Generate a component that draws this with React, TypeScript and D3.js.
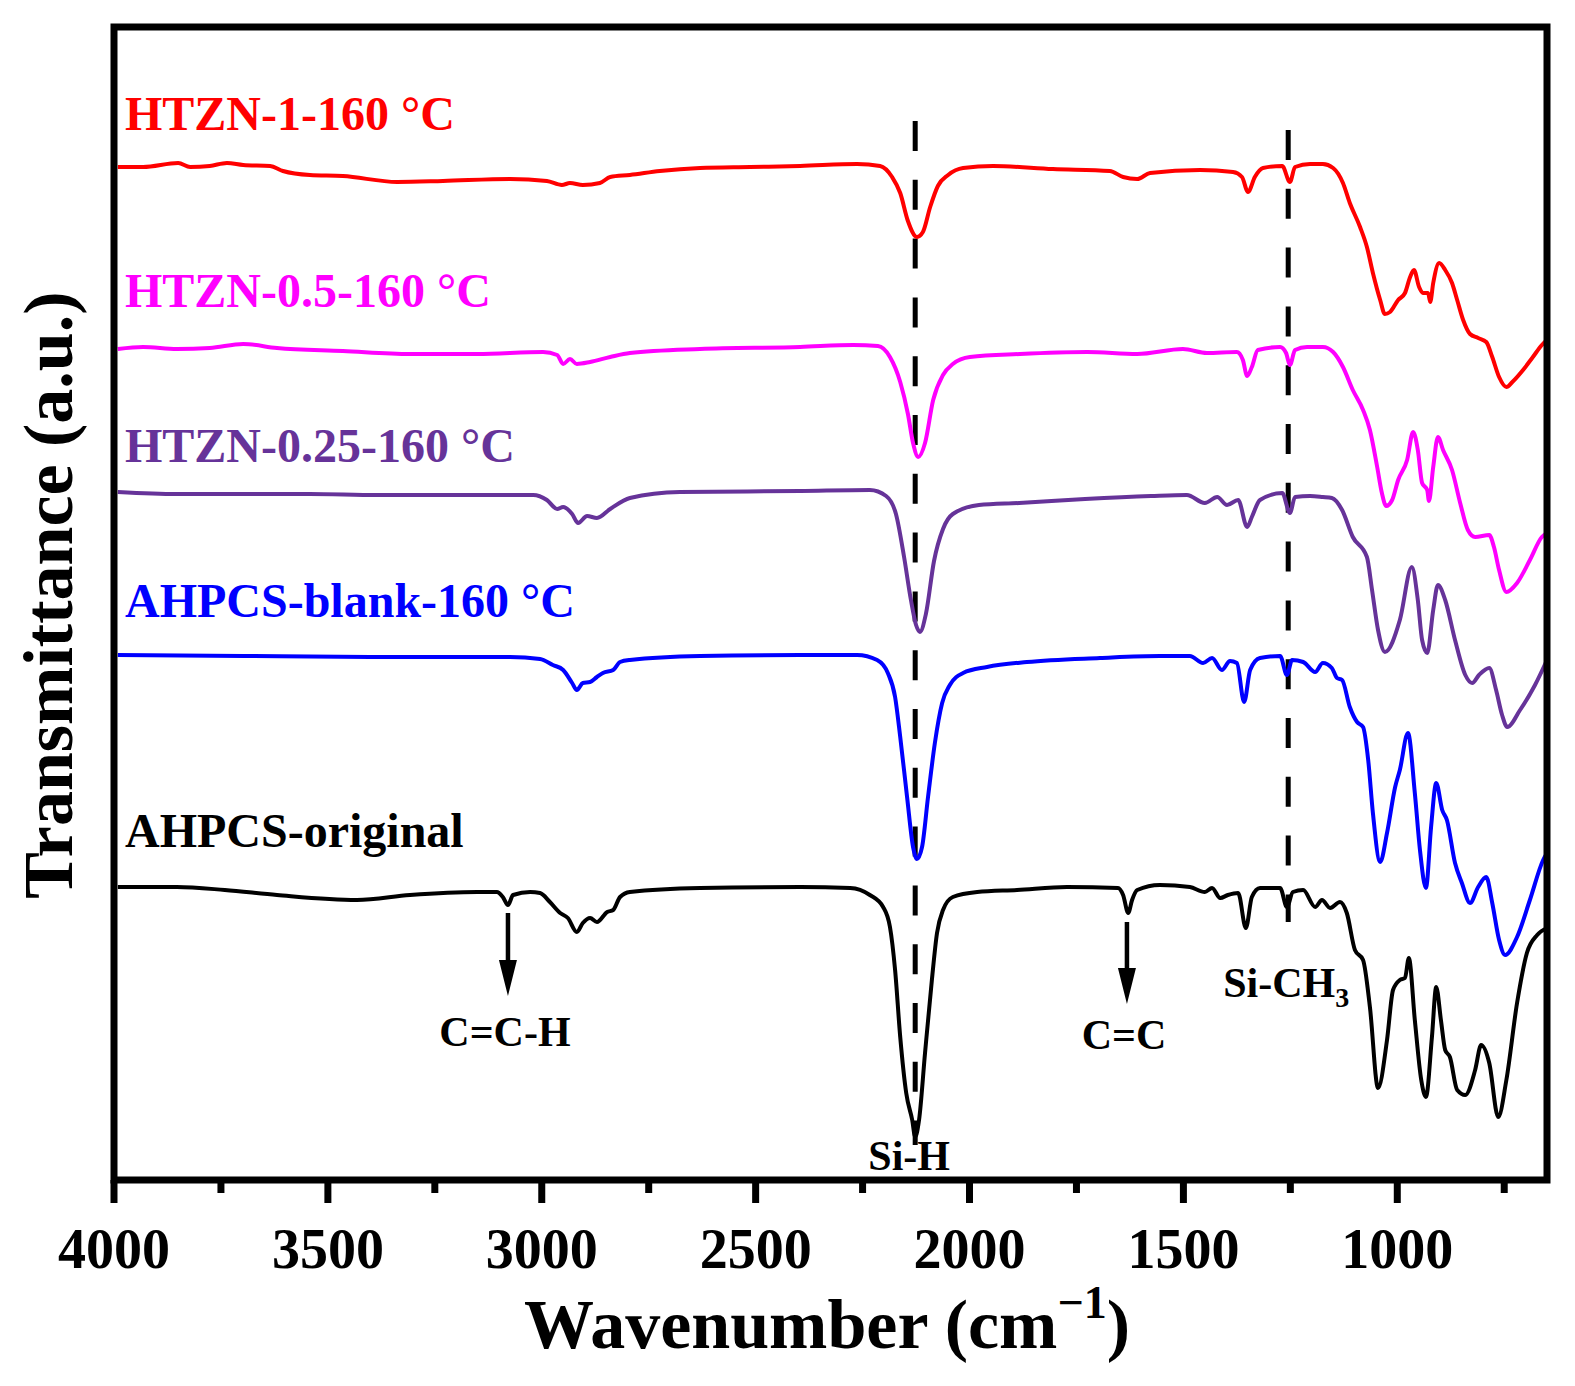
import React, { useEffect, useRef } from 'react';
import * as d3 from 'd3';

type Pt = [number, number];

// [wavenumber (cm-1), transmittance (a.u., offset as plotted)]
const htzn1: Pt[] = [
	[3991, 101.3], [3932, 101.3], [3850, 101.7], [3822, 101.3], [3776, 101.4], [3736, 101.7], [3698, 101.5],
	[3635, 101.4], [3605, 100.9], [3542, 100.5], [3465, 100.4], [3338, 99.8], [3231, 99.9], [3074, 100.1],
	[2988, 99.9], [2953, 99.5], [2934, 99.7], [2904, 99.5], [2864, 99.7], [2840, 100.3], [2794, 100.5],
	[2724, 100.9], [2630, 101.2], [2513, 101.3], [2396, 101.4], [2263, 101.6], [2209, 101.4], [2181, 100.3],
	[2162, 98.7], [2144, 95.9], [2123, 94.3], [2109, 94.8], [2092, 97.3], [2074, 99.4], [2050, 100.5],
	[2015, 101.2], [1945, 101.4], [1805, 101.1], [1672, 100.9], [1641, 100.3], [1608, 100.1], [1578, 100.7],
	[1461, 101.0], [1384, 100.8], [1363, 100.3], [1349, 98.8], [1333, 100.3], [1314, 101.2], [1269, 101.4],
	[1251, 99.8], [1239, 101.3], [1204, 101.6], [1174, 101.6], [1150, 101.2], [1127, 99.7], [1111, 97.7],
	[1087, 95.3], [1071, 93.3], [1057, 90.7], [1040, 88.0], [1029, 86.6], [1017, 86.8], [998, 88.0],
	[982, 88.7], [970, 90.3], [961, 91.0], [949, 89.3], [940, 88.7], [928, 88.7], [923, 87.8], [916, 89.7],
	[902, 91.7], [888, 91.0], [872, 89.7], [860, 88.0], [846, 86.0], [830, 84.6], [811, 84.2], [792, 83.8],
	[778, 82.3], [762, 80.3], [745, 79.3], [731, 79.8], [706, 81.0], [683, 82.3], [662, 83.5], [650, 84.0],
];

const htzn05: Pt[] = [
	[3991, 83.1], [3932, 83.3], [3853, 83.1], [3776, 83.2], [3698, 83.6], [3619, 83.2], [3465, 82.9],
	[3308, 82.6], [3151, 82.6], [2997, 82.8], [2964, 82.5], [2950, 81.6], [2934, 82.1], [2918, 81.6],
	[2887, 81.8], [2840, 82.3], [2794, 82.7], [2630, 83.1], [2396, 83.3], [2272, 83.5], [2214, 83.4],
	[2186, 82.3], [2162, 79.8], [2144, 76.6], [2132, 73.7], [2120, 72.3], [2104, 73.7], [2085, 78.0],
	[2062, 80.5], [2039, 81.6], [1999, 82.3], [1882, 82.6], [1725, 82.8], [1608, 82.6], [1501, 83.1],
	[1445, 82.7], [1375, 82.8], [1361, 82.0], [1351, 80.4], [1340, 81.3], [1326, 83.0], [1274, 83.3],
	[1260, 82.7], [1251, 81.5], [1239, 83.0], [1211, 83.3], [1174, 83.3], [1150, 82.8], [1127, 81.3],
	[1104, 79.0], [1080, 77.0], [1064, 75.0], [1047, 71.3], [1036, 68.7], [1026, 67.4], [1012, 68.0],
	[998, 70.0], [977, 72.0], [963, 74.8], [952, 73.0], [942, 69.7], [930, 69.0], [926, 67.9], [916, 71.3],
	[905, 74.3], [893, 73.0], [872, 71.0], [853, 67.7], [835, 65.0], [818, 64.3], [785, 64.5], [774, 63.3],
	[762, 61.0], [745, 58.8], [720, 59.7], [690, 62.0], [662, 64.3], [650, 64.7],
];

const htzn025: Pt[] = [
	[3991, 68.8], [3853, 68.6], [3698, 68.6], [3542, 68.6], [3385, 68.5], [3231, 68.5], [3074, 68.5],
	[3020, 68.5], [2988, 68.0], [2964, 67.1], [2950, 67.3], [2929, 66.6], [2915, 65.7], [2894, 66.4],
	[2871, 66.2], [2840, 67.1], [2794, 68.2], [2677, 68.8], [2396, 68.9], [2233, 69.0], [2195, 68.4],
	[2172, 66.6], [2153, 62.3], [2137, 58.0], [2125, 55.5], [2116, 54.8], [2102, 56.6], [2083, 61.9],
	[2062, 65.1], [2039, 66.6], [1978, 67.5], [1884, 67.7], [1730, 68.1], [1576, 68.4], [1492, 68.5],
	[1450, 67.7], [1421, 68.3], [1398, 67.5], [1372, 68.0], [1351, 65.3], [1340, 66.3], [1321, 68.0],
	[1269, 68.7], [1251, 66.7], [1239, 68.3], [1204, 68.4], [1174, 68.3], [1153, 68.2], [1129, 67.0],
	[1104, 64.3], [1071, 62.3], [1059, 59.0], [1045, 55.0], [1029, 52.8], [994, 56.0], [966, 61.3],
	[952, 58.0], [942, 54.0], [930, 52.7], [916, 57.0], [905, 59.5], [888, 58.0], [865, 54.0], [841, 50.5],
	[825, 49.7], [809, 50.5], [785, 51.2], [769, 49.0], [755, 46.5], [743, 45.3], [713, 47.0], [678, 49.5],
	[650, 52.0],
];

const blank: Pt[] = [
	[3991, 52.5], [3698, 52.4], [3385, 52.3], [3074, 52.3], [3004, 52.1], [2974, 51.5], [2950, 51.0],
	[2929, 49.7], [2918, 49.0], [2904, 49.7], [2887, 49.8], [2871, 50.3], [2857, 50.7], [2833, 51.0],
	[2817, 51.8], [2794, 52.0], [2630, 52.4], [2396, 52.5], [2263, 52.5], [2216, 52.0], [2191, 50.7],
	[2174, 48.3], [2162, 44.3], [2146, 38.3], [2132, 33.3], [2123, 32.1], [2111, 33.3], [2097, 38.3],
	[2081, 43.7], [2064, 47.7], [2046, 49.5], [2015, 50.7], [1959, 51.3], [1866, 51.8], [1695, 52.2],
	[1555, 52.4], [1485, 52.4], [1454, 51.7], [1433, 52.2], [1410, 51.0], [1391, 51.9], [1375, 51.7],
	[1358, 47.8], [1344, 51.0], [1321, 52.2], [1274, 52.4], [1258, 50.5], [1246, 52.0], [1220, 51.8],
	[1192, 50.8], [1174, 51.7], [1153, 51.2], [1141, 50.2], [1129, 50.0], [1111, 47.3], [1094, 45.8],
	[1080, 45.3], [1068, 42.0], [1057, 36.7], [1040, 31.8], [1024, 34.7], [1005, 39.3], [994, 41.0],
	[975, 44.7], [959, 38.7], [947, 33.0], [933, 29.2], [921, 35.3], [909, 39.7], [895, 37.0], [884, 36.0],
	[865, 31.7], [849, 29.7], [830, 27.7], [811, 29.3], [792, 30.3], [778, 27.7], [762, 24.0], [748, 22.5],
	[720, 24.3], [690, 28.0], [659, 32.0], [650, 32.7],
];

const original: Pt[] = [
	[3991, 29.3], [3853, 29.3], [3741, 29.0], [3619, 28.5], [3432, 28.0], [3308, 28.5], [3151, 28.8],
	[3105, 28.8], [3091, 28.3], [3079, 27.5], [3067, 28.5], [3027, 28.8], [3004, 28.7], [2981, 27.8],
	[2957, 26.7], [2939, 26.2], [2918, 24.8], [2904, 25.7], [2887, 26.2], [2871, 25.8], [2847, 26.8],
	[2833, 27.0], [2817, 28.3], [2794, 28.8], [2630, 29.2], [2396, 29.3], [2279, 29.2], [2233, 28.5],
	[2202, 27.3], [2186, 25.3], [2174, 21.0], [2162, 14.3], [2148, 8.7], [2134, 6.0], [2127, 4.3],
	[2118, 6.0], [2104, 12.7], [2088, 20.0], [2076, 24.7], [2062, 27.0], [2039, 28.3], [1982, 28.8],
	[1889, 29.0], [1772, 29.3], [1653, 29.2], [1641, 28.5], [1629, 26.7], [1620, 28.0], [1608, 29.0],
	[1555, 29.5], [1485, 29.3], [1450, 28.8], [1433, 29.2], [1414, 28.2], [1396, 28.5], [1372, 28.7],
	[1354, 25.2], [1340, 28.3], [1321, 29.2], [1274, 29.2], [1258, 27.3], [1244, 28.8], [1220, 29.0],
	[1192, 27.3], [1176, 28.0], [1157, 27.2], [1134, 27.8], [1118, 26.7], [1099, 23.0], [1080, 22.0],
	[1064, 17.3], [1045, 9.2], [1024, 14.0], [1010, 19.0], [994, 20.0], [982, 20.2], [973, 22.2],
	[959, 16.0], [944, 10.0], [933, 8.3], [919, 14.3], [909, 19.3], [898, 16.0], [888, 13.0], [877, 12.3],
	[860, 9.0], [841, 8.5], [818, 11.0], [804, 13.5], [785, 11.7], [764, 6.3], [745, 10.0], [720, 17.7],
	[697, 22.7], [673, 24.5], [650, 25.2],
];

const seriesData = [htzn1, htzn05, htzn025, blank, original];
const seriesNames = ['HTZN-1-160 °C', 'HTZN-0.5-160 °C', 'HTZN-0.25-160 °C', 'AHPCS-blank-160 °C', 'AHPCS-original'];
const seriesColors = ['#ff0000', '#ff00ff', '#663399', '#0000ff', '#000000'];

const majorTicks = [4000, 3500, 3000, 2500, 2000, 1500, 1000];
const minorTicks = [3750, 3250, 2750, 2250, 1750, 1250, 750];

// dashed guide lines: wavenumber, top value, bottom value
const guideWn = [2127, 1255];
const guideTop = [105.9, 105.0];
const guideBottom = [3.5, 25.8];

// arrow annotations
const arrowWn = [3079, 1632];
const arrowLabels = ['C=C-H', 'C=C'];

const FONT = '"Liberation Serif", "Times New Roman", serif';

function FtirChart(): JSX.Element {
	const ref = useRef<SVGSVGElement | null>(null);
	useEffect(() => {
		if (!ref.current) return;
		const width = 1575;
		const height = 1386;
		const left = 114, right = 1547, top = 27, bottom = 1180;
		const svg = d3.select(ref.current);
		svg.selectAll('*').remove();
		svg.attr('viewBox', `0 0 ${width} ${height}`);
		svg.append('rect').attr('width', width).attr('height', height).attr('fill', '#fff');

		const x = d3.scaleLinear([4000, 650], [left, right]);
		const y = d3.scaleLinear([0, 115.3], [bottom, top]);

		const g = svg.append('g').style('font-family', FONT).style('font-weight', 'bold');

		// dashed guides
		guideWn.forEach((wn, i) => {
			g.append('line')
				.attr('x1', x(wn)).attr('x2', x(wn))
				.attr('y1', y(guideTop[i])).attr('y2', y(guideBottom[i]))
				.attr('stroke', '#000').attr('stroke-width', 5).attr('stroke-dasharray', '30 28.8');
		});

		// spectra
		const line = d3.line<Pt>().x(d => x(d[0])).y(d => y(d[1])).curve(d3.curveMonotoneX);
		seriesData.forEach((s, i) => {
			g.append('path').attr('d', line(s) as any)
				.attr('fill', 'none').attr('stroke', seriesColors[i]).attr('stroke-width', 4)
				.attr('stroke-linejoin', 'round');
		});

		// series labels
		const labelY = [130, 307, 462, 617, 847];
		seriesNames.forEach((n, i) => {
			g.append('text').attr('x', 125).attr('y', labelY[i])
				.attr('fill', seriesColors[i]).style('font-size', '48px').text(n);
		});

		// arrows
		const arrowTopY = [913, 922];
		const arrowTipY = [996, 1004];
		const labelBase = [1046, 1049];
		arrowWn.forEach((wn, i) => {
			const ax = x(wn);
			g.append('line').attr('x1', ax).attr('x2', ax).attr('y1', arrowTopY[i]).attr('y2', arrowTipY[i] - 30)
				.attr('stroke', '#000').attr('stroke-width', 4.5);
			g.append('path')
				.attr('d', `M${ax - 9},${arrowTipY[i] - 36} L${ax + 9},${arrowTipY[i] - 36} L${ax},${arrowTipY[i]} Z`)
				.attr('fill', '#000');
			g.append('text').attr('x', ax - 3).attr('y', labelBase[i]).attr('text-anchor', 'middle')
				.style('font-size', '42px').attr('fill', '#000').text(arrowLabels[i]);
		});

		// Si-H and Si-CH3 labels
		g.append('text').attr('x', x(guideWn[0]) - 6).attr('y', 1170).attr('text-anchor', 'middle')
			.style('font-size', '42px').text('Si-H');
		const sich = g.append('text').attr('x', x(guideWn[1]) - 65).attr('y', 997).style('font-size', '42px');
		sich.append('tspan').text('Si-CH');
		sich.append('tspan').attr('dy', 10).style('font-size', '28px').text('3');

		// frame
		g.append('rect').attr('x', left).attr('y', top).attr('width', right - left).attr('height', bottom - top)
			.attr('fill', 'none').attr('stroke', '#000').attr('stroke-width', 7);

		// ticks
		g.selectAll('line.major').data(majorTicks).enter().append('line').attr('class', 'major')
			.attr('x1', d => x(d)).attr('x2', d => x(d)).attr('y1', bottom).attr('y2', bottom + 23)
			.attr('stroke', '#000').attr('stroke-width', 7);
		g.selectAll('line.minor').data(minorTicks).enter().append('line').attr('class', 'minor')
			.attr('x1', d => x(d)).attr('x2', d => x(d)).attr('y1', bottom).attr('y2', bottom + 13)
			.attr('stroke', '#000').attr('stroke-width', 7);
		g.selectAll('text.tick').data(majorTicks).enter().append('text').attr('class', 'tick')
			.attr('x', d => x(d)).attr('y', 1268).attr('text-anchor', 'middle')
			.style('font-size', '56px').text(d => d);

		// axis titles
		const xt = g.append('text').attr('x', 827).attr('y', 1348).attr('text-anchor', 'middle').style('font-size', '70px');
		xt.append('tspan').text('Wavenumber (cm');
		xt.append('tspan').attr('dy', -30).style('font-size', '46px').text('\u22121');
		xt.append('tspan').attr('dy', 30).text(')');

		g.append('text').attr('transform', 'translate(72,595) rotate(-90)').attr('text-anchor', 'middle')
			.style('font-size', '70px').text('Transmittance (a.u.)');
	}, []);
	return <svg ref={ref} width={1575} height={1386} style={{ display: 'block' }} />;
}

export default function App(): JSX.Element {
	return (
		<div style={{ position: 'absolute', left: 0, top: 0, background: '#fff' }}>
			<FtirChart />
		</div>
	);
}
